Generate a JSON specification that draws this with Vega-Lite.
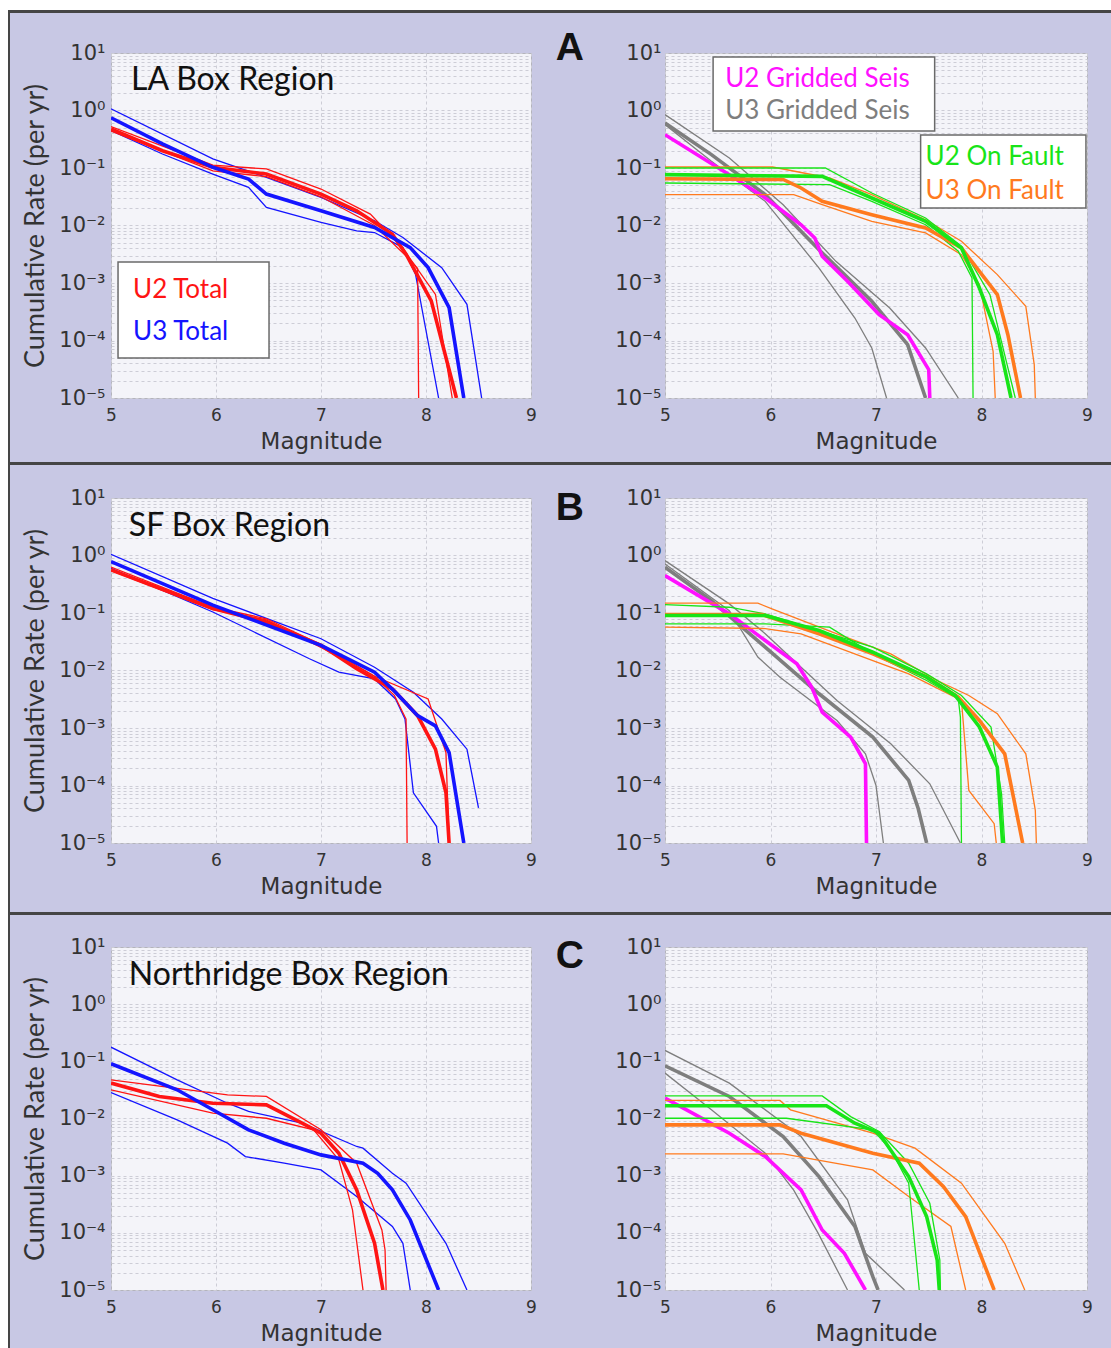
{
  "$schema": "https://vega.github.io/schema/vega-lite/v6.json",
  "background": "#c8c8e4",
  "padding": 0,
  "bounds": "flush",
  "spacing": 0,
  "columns": 6,
  "config": {
    "view": {"stroke": null},
    "axis": {"grid": true, "gridDash": [3, 3], "gridColor": "#cdcdd6", "gridWidth": 1, "ticks": false, "domain": false, "labelColor": "#333333", "titleColor": "#333333", "labelFont": "DejaVu Sans", "titleFont": "DejaVu Sans", "titleFontWeight": "normal", "labelOverlap": false, "labelFlush": false, "labelBound": false}
  },
  "datasets": {
    "AL": [
      {"s":"U3 Total","w":"thin","id":"b1","M":5,"r":1.07},{"s":"U3 Total","w":"thin","id":"b1","M":5.97,"r":0.144},{"s":"U3 Total","w":"thin","id":"b1","M":6.48,"r":0.0687},{"s":"U3 Total","w":"thin","id":"b1","M":7.0,"r":0.0308},{"s":"U3 Total","w":"thin","id":"b1","M":7.51,"r":0.0121},{"s":"U3 Total","w":"thin","id":"b1","M":7.78,"r":0.00618},{"s":"U3 Total","w":"thin","id":"b1","M":8.15,"r":0.00185},{"s":"U3 Total","w":"thin","id":"b1","M":8.39,"r":0.000425},{"s":"U3 Total","w":"thin","id":"b1","M":8.53,"r":0.00001},
      {"s":"U3 Total","w":"thin","id":"b2","M":5,"r":0.448},{"s":"U3 Total","w":"thin","id":"b2","M":5.49,"r":0.175},{"s":"U3 Total","w":"thin","id":"b2","M":5.97,"r":0.0785},{"s":"U3 Total","w":"thin","id":"b2","M":6.31,"r":0.046},{"s":"U3 Total","w":"thin","id":"b2","M":6.48,"r":0.0206},{"s":"U3 Total","w":"thin","id":"b2","M":7.0,"r":0.0113},{"s":"U3 Total","w":"thin","id":"b2","M":7.34,"r":0.00807},{"s":"U3 Total","w":"thin","id":"b2","M":7.51,"r":0.00755},{"s":"U3 Total","w":"thin","id":"b2","M":7.78,"r":0.00413},{"s":"U3 Total","w":"thin","id":"b2","M":7.9,"r":0.00142},{"s":"U3 Total","w":"thin","id":"b2","M":8.12,"r":0.00001},
      {"s":"U2 Total","w":"thin","id":"r1","M":5,"r":0.525},{"s":"U2 Total","w":"thin","id":"r1","M":5.97,"r":0.112},{"s":"U2 Total","w":"thin","id":"r1","M":6.48,"r":0.0962},{"s":"U2 Total","w":"thin","id":"r1","M":7.0,"r":0.0431},{"s":"U2 Total","w":"thin","id":"r1","M":7.47,"r":0.0158},{"s":"U2 Total","w":"thin","id":"r1","M":7.78,"r":0.00398},{"s":"U2 Total","w":"thin","id":"r1","M":8.09,"r":0.000634},{"s":"U2 Total","w":"thin","id":"r1","M":8.25,"r":0.00001},
      {"s":"U2 Total","w":"thin","id":"r2","M":5,"r":0.437},{"s":"U2 Total","w":"thin","id":"r2","M":5.97,"r":0.0891},{"s":"U2 Total","w":"thin","id":"r2","M":6.48,"r":0.0708},{"s":"U2 Total","w":"thin","id":"r2","M":7.0,"r":0.0316},{"s":"U2 Total","w":"thin","id":"r2","M":7.51,"r":0.01},{"s":"U2 Total","w":"thin","id":"r2","M":7.85,"r":0.00251},{"s":"U2 Total","w":"thin","id":"r2","M":7.92,"r":0.00178},{"s":"U2 Total","w":"thin","id":"r2","M":7.93,"r":0.00001},
      {"s":"U2 Total","w":"thick","id":"r0","M":5,"r":0.479},{"s":"U2 Total","w":"thick","id":"r0","M":5.49,"r":0.2},{"s":"U2 Total","w":"thick","id":"r0","M":5.97,"r":0.103},{"s":"U2 Total","w":"thick","id":"r0","M":6.48,"r":0.0785},{"s":"U2 Total","w":"thick","id":"r0","M":7.0,"r":0.0352},{"s":"U2 Total","w":"thick","id":"r0","M":7.34,"r":0.018},{"s":"U2 Total","w":"thick","id":"r0","M":7.68,"r":0.00706},{"s":"U2 Total","w":"thick","id":"r0","M":7.81,"r":0.00316},{"s":"U2 Total","w":"thick","id":"r0","M":8.05,"r":0.00049},{"s":"U2 Total","w":"thick","id":"r0","M":8.29,"r":0.00001},
      {"s":"U3 Total","w":"thick","id":"b0","M":5,"r":0.745},{"s":"U3 Total","w":"thick","id":"b0","M":5.49,"r":0.262},{"s":"U3 Total","w":"thick","id":"b0","M":5.97,"r":0.103},{"s":"U3 Total","w":"thick","id":"b0","M":6.31,"r":0.0643},{"s":"U3 Total","w":"thick","id":"b0","M":6.48,"r":0.0352},{"s":"U3 Total","w":"thick","id":"b0","M":7.0,"r":0.018},{"s":"U3 Total","w":"thick","id":"b0","M":7.51,"r":0.00923},{"s":"U3 Total","w":"thick","id":"b0","M":7.85,"r":0.00413},{"s":"U3 Total","w":"thick","id":"b0","M":8.02,"r":0.00185},{"s":"U3 Total","w":"thick","id":"b0","M":8.22,"r":0.000372},{"s":"U3 Total","w":"thick","id":"b0","M":8.36,"r":0.00001}
    ],
    "AR": [
      {"s":"U3 Gridded Seis","w":"thin","id":"g1","M":5,"r":0.847},{"s":"U3 Gridded Seis","w":"thin","id":"g1","M":5.61,"r":0.149},{"s":"U3 Gridded Seis","w":"thin","id":"g1","M":6.12,"r":0.023},{"s":"U3 Gridded Seis","w":"thin","id":"g1","M":6.62,"r":0.00238},{"s":"U3 Gridded Seis","w":"thin","id":"g1","M":7.13,"r":0.000367},{"s":"U3 Gridded Seis","w":"thin","id":"g1","M":7.47,"r":0.0000741},{"s":"U3 Gridded Seis","w":"thin","id":"g1","M":7.78,"r":0.00001},
      {"s":"U3 Gridded Seis","w":"thin","id":"g2","M":5,"r":0.568},{"s":"U3 Gridded Seis","w":"thin","id":"g2","M":5.44,"r":0.131},{"s":"U3 Gridded Seis","w":"thin","id":"g2","M":5.95,"r":0.0263},{"s":"U3 Gridded Seis","w":"thin","id":"g2","M":6.46,"r":0.00182},{"s":"U3 Gridded Seis","w":"thin","id":"g2","M":6.8,"r":0.000246},{"s":"U3 Gridded Seis","w":"thin","id":"g2","M":6.96,"r":0.0000741},{"s":"U3 Gridded Seis","w":"thin","id":"g2","M":7.1,"r":0.00001},
      {"s":"U3 Gridded Seis","w":"thick","id":"g0","M":5,"r":0.607},{"s":"U3 Gridded Seis","w":"thick","id":"g0","M":5.44,"r":0.171},{"s":"U3 Gridded Seis","w":"thick","id":"g0","M":5.95,"r":0.0344},{"s":"U3 Gridded Seis","w":"thick","id":"g0","M":6.46,"r":0.0038},{"s":"U3 Gridded Seis","w":"thick","id":"g0","M":6.96,"r":0.00048},{"s":"U3 Gridded Seis","w":"thick","id":"g0","M":7.3,"r":0.0000847},{"s":"U3 Gridded Seis","w":"thick","id":"g0","M":7.47,"r":0.00001},
      {"s":"U2 Gridded Seis","w":"thick","id":"m0","M":5,"r":0.38},{"s":"U2 Gridded Seis","w":"thick","id":"m0","M":5.61,"r":0.0766},{"s":"U2 Gridded Seis","w":"thick","id":"m0","M":5.95,"r":0.0301},{"s":"U2 Gridded Seis","w":"thick","id":"m0","M":6.29,"r":0.0103},{"s":"U2 Gridded Seis","w":"thick","id":"m0","M":6.42,"r":0.00607},{"s":"U2 Gridded Seis","w":"thick","id":"m0","M":6.49,"r":0.00291},{"s":"U2 Gridded Seis","w":"thick","id":"m0","M":6.73,"r":0.00107},{"s":"U2 Gridded Seis","w":"thick","id":"m0","M":7.03,"r":0.000281},{"s":"U2 Gridded Seis","w":"thick","id":"m0","M":7.3,"r":0.000126},{"s":"U2 Gridded Seis","w":"thick","id":"m0","M":7.5,"r":0.0000311},{"s":"U2 Gridded Seis","w":"thick","id":"m0","M":7.51,"r":0.00001},
      {"s":"U3 On Fault","w":"thin","id":"o1","M":5,"r":0.104},{"s":"U3 On Fault","w":"thin","id":"o1","M":6.02,"r":0.104},{"s":"U3 On Fault","w":"thin","id":"o1","M":6.56,"r":0.067},{"s":"U3 On Fault","w":"thin","id":"o1","M":6.96,"r":0.0344},{"s":"U3 On Fault","w":"thin","id":"o1","M":7.47,"r":0.0126},{"s":"U3 On Fault","w":"thin","id":"o1","M":7.81,"r":0.00531},{"s":"U3 On Fault","w":"thin","id":"o1","M":8.15,"r":0.0014},{"s":"U3 On Fault","w":"thin","id":"o1","M":8.42,"r":0.000393},{"s":"U3 On Fault","w":"thin","id":"o1","M":8.5,"r":0.000038},{"s":"U3 On Fault","w":"thin","id":"o1","M":8.51,"r":0.00001},
      {"s":"U3 On Fault","w":"thin","id":"o2","M":5,"r":0.0344},{"s":"U3 On Fault","w":"thin","id":"o2","M":6.22,"r":0.0344},{"s":"U3 On Fault","w":"thin","id":"o2","M":6.49,"r":0.023},{"s":"U3 On Fault","w":"thin","id":"o2","M":6.96,"r":0.0118},{"s":"U3 On Fault","w":"thin","id":"o2","M":7.47,"r":0.00741},{"s":"U3 On Fault","w":"thin","id":"o2","M":7.81,"r":0.00311},{"s":"U3 On Fault","w":"thin","id":"o2","M":7.98,"r":0.000935},{"s":"U3 On Fault","w":"thin","id":"o2","M":8.11,"r":0.0000649},{"s":"U3 On Fault","w":"thin","id":"o2","M":8.13,"r":0.00001},
      {"s":"U2 On Fault","w":"thin","id":"u1","M":5,"r":0.1},{"s":"U2 On Fault","w":"thin","id":"u1","M":6.52,"r":0.1},{"s":"U2 On Fault","w":"thin","id":"u1","M":6.96,"r":0.0367},{"s":"U2 On Fault","w":"thin","id":"u1","M":7.47,"r":0.0135},{"s":"U2 On Fault","w":"thin","id":"u1","M":7.81,"r":0.00435},{"s":"U2 On Fault","w":"thin","id":"u1","M":8.08,"r":0.000627},{"s":"U2 On Fault","w":"thin","id":"u1","M":8.32,"r":0.00001},
      {"s":"U2 On Fault","w":"thin","id":"u2","M":5,"r":0.0548},{"s":"U2 On Fault","w":"thin","id":"u2","M":6.56,"r":0.0513},{"s":"U2 On Fault","w":"thin","id":"u2","M":6.96,"r":0.0263},{"s":"U2 On Fault","w":"thin","id":"u2","M":7.47,"r":0.0103},{"s":"U2 On Fault","w":"thin","id":"u2","M":7.78,"r":0.00356},{"s":"U2 On Fault","w":"thin","id":"u2","M":7.91,"r":0.00122},{"s":"U2 On Fault","w":"thin","id":"u2","M":7.92,"r":0.00001},
      {"s":"U3 On Fault","w":"thick","id":"o0","M":5,"r":0.0652},{"s":"U3 On Fault","w":"thick","id":"o0","M":6.12,"r":0.0631},{"s":"U3 On Fault","w":"thick","id":"o0","M":6.29,"r":0.0449},{"s":"U3 On Fault","w":"thick","id":"o0","M":6.49,"r":0.0263},{"s":"U3 On Fault","w":"thick","id":"o0","M":6.96,"r":0.0154},{"s":"U3 On Fault","w":"thick","id":"o0","M":7.47,"r":0.00906},{"s":"U3 On Fault","w":"thick","id":"o0","M":7.81,"r":0.00406},{"s":"U3 On Fault","w":"thick","id":"o0","M":8.15,"r":0.000627},{"s":"U3 On Fault","w":"thick","id":"o0","M":8.25,"r":0.000126},{"s":"U3 On Fault","w":"thick","id":"o0","M":8.37,"r":0.00001},
      {"s":"U2 On Fault","w":"thick","id":"u0","M":5,"r":0.0766},{"s":"U2 On Fault","w":"thick","id":"u0","M":6.49,"r":0.0716},{"s":"U2 On Fault","w":"thick","id":"u0","M":6.96,"r":0.0301},{"s":"U2 On Fault","w":"thick","id":"u0","M":7.47,"r":0.0118},{"s":"U2 On Fault","w":"thick","id":"u0","M":7.81,"r":0.00406},{"s":"U2 On Fault","w":"thick","id":"u0","M":7.98,"r":0.000818},{"s":"U2 On Fault","w":"thick","id":"u0","M":8.15,"r":0.000126},{"s":"U2 On Fault","w":"thick","id":"u0","M":8.28,"r":0.00001}
    ],
    "BL": [
      {"s":"U3 Total","w":"thin","id":"b1","M":5,"r":1.05},{"s":"U3 Total","w":"thin","id":"b1","M":5.97,"r":0.179},{"s":"U3 Total","w":"thin","id":"b1","M":7.0,"r":0.0357},{"s":"U3 Total","w":"thin","id":"b1","M":7.51,"r":0.0114},{"s":"U3 Total","w":"thin","id":"b1","M":7.88,"r":0.00418},{"s":"U3 Total","w":"thin","id":"b1","M":8.15,"r":0.00143},{"s":"U3 Total","w":"thin","id":"b1","M":8.39,"r":0.000428},{"s":"U3 Total","w":"thin","id":"b1","M":8.5,"r":0.0000409},
      {"s":"U3 Total","w":"thin","id":"b2","M":5,"r":0.598},{"s":"U3 Total","w":"thin","id":"b2","M":5.97,"r":0.104},{"s":"U3 Total","w":"thin","id":"b2","M":6.89,"r":0.016},{"s":"U3 Total","w":"thin","id":"b2","M":7.17,"r":0.00935},{"s":"U3 Total","w":"thin","id":"b2","M":7.51,"r":0.00714},{"s":"U3 Total","w":"thin","id":"b2","M":7.71,"r":0.0032},{"s":"U3 Total","w":"thin","id":"b2","M":7.8,"r":0.00143},{"s":"U3 Total","w":"thin","id":"b2","M":7.88,"r":0.0000748},{"s":"U3 Total","w":"thin","id":"b2","M":8.1,"r":0.0000195},{"s":"U3 Total","w":"thin","id":"b2","M":8.12,"r":0.00001},
      {"s":"U2 Total","w":"thin","id":"r1","M":5,"r":0.631},{"s":"U2 Total","w":"thin","id":"r1","M":5.97,"r":0.126},{"s":"U2 Total","w":"thin","id":"r1","M":6.48,"r":0.0794},{"s":"U2 Total","w":"thin","id":"r1","M":7.0,"r":0.0282},{"s":"U2 Total","w":"thin","id":"r1","M":7.51,"r":0.00794},{"s":"U2 Total","w":"thin","id":"r1","M":7.7,"r":0.00366},{"s":"U2 Total","w":"thin","id":"r1","M":7.81,"r":0.00143},{"s":"U2 Total","w":"thin","id":"r1","M":7.82,"r":0.00001},
      {"s":"U2 Total","w":"thin","id":"r2","M":5,"r":0.55},{"s":"U2 Total","w":"thin","id":"r2","M":5.97,"r":0.115},{"s":"U2 Total","w":"thin","id":"r2","M":6.48,"r":0.0759},{"s":"U2 Total","w":"thin","id":"r2","M":7.0,"r":0.0251},{"s":"U2 Total","w":"thin","id":"r2","M":7.51,"r":0.00794},{"s":"U2 Total","w":"thin","id":"r2","M":8.02,"r":0.0032},{"s":"U2 Total","w":"thin","id":"r2","M":8.19,"r":0.000374},{"s":"U2 Total","w":"thin","id":"r2","M":8.22,"r":0.00001},
      {"s":"U2 Total","w":"thick","id":"r0","M":5,"r":0.562},{"s":"U2 Total","w":"thick","id":"r0","M":5.97,"r":0.12},{"s":"U2 Total","w":"thick","id":"r0","M":6.48,"r":0.07},{"s":"U2 Total","w":"thick","id":"r0","M":7.0,"r":0.0274},{"s":"U2 Total","w":"thick","id":"r0","M":7.34,"r":0.0107},{"s":"U2 Total","w":"thick","id":"r0","M":7.68,"r":0.00479},{"s":"U2 Total","w":"thick","id":"r0","M":7.92,"r":0.00164},{"s":"U2 Total","w":"thick","id":"r0","M":8.09,"r":0.000428},{"s":"U2 Total","w":"thick","id":"r0","M":8.19,"r":0.0000748},{"s":"U2 Total","w":"thick","id":"r0","M":8.22,"r":0.00001},
      {"s":"U3 Total","w":"thick","id":"b0","M":5,"r":0.782},{"s":"U3 Total","w":"thick","id":"b0","M":5.97,"r":0.137},{"s":"U3 Total","w":"thick","id":"b0","M":7.0,"r":0.0274},{"s":"U3 Total","w":"thick","id":"b0","M":7.51,"r":0.00935},{"s":"U3 Total","w":"thick","id":"b0","M":7.71,"r":0.00418},{"s":"U3 Total","w":"thick","id":"b0","M":7.92,"r":0.00164},{"s":"U3 Total","w":"thick","id":"b0","M":8.09,"r":0.00109},{"s":"U3 Total","w":"thick","id":"b0","M":8.22,"r":0.000374},{"s":"U3 Total","w":"thick","id":"b0","M":8.36,"r":0.00001}
    ],
    "BR": [
      {"s":"U3 Gridded Seis","w":"thin","id":"g1","M":5,"r":0.815},{"s":"U3 Gridded Seis","w":"thin","id":"g1","M":5.61,"r":0.144},{"s":"U3 Gridded Seis","w":"thin","id":"g1","M":5.95,"r":0.0437},{"s":"U3 Gridded Seis","w":"thin","id":"g1","M":6.29,"r":0.0114},{"s":"U3 Gridded Seis","w":"thin","id":"g1","M":6.63,"r":0.00301},{"s":"U3 Gridded Seis","w":"thin","id":"g1","M":7.14,"r":0.000532},{"s":"U3 Gridded Seis","w":"thin","id":"g1","M":7.51,"r":0.000107},{"s":"U3 Gridded Seis","w":"thin","id":"g1","M":7.8,"r":0.00001},
      {"s":"U3 Gridded Seis","w":"thin","id":"g2","M":5,"r":0.713},{"s":"U3 Gridded Seis","w":"thin","id":"g2","M":5.61,"r":0.11},{"s":"U3 Gridded Seis","w":"thin","id":"g2","M":5.88,"r":0.0171},{"s":"U3 Gridded Seis","w":"thin","id":"g2","M":6.09,"r":0.00766},{"s":"U3 Gridded Seis","w":"thin","id":"g2","M":6.63,"r":0.00135},{"s":"U3 Gridded Seis","w":"thin","id":"g2","M":6.9,"r":0.000356},{"s":"U3 Gridded Seis","w":"thin","id":"g2","M":7.0,"r":0.0001},{"s":"U3 Gridded Seis","w":"thin","id":"g2","M":7.07,"r":0.00001},
      {"s":"U3 Gridded Seis","w":"thick","id":"g0","M":5,"r":0.624},{"s":"U3 Gridded Seis","w":"thick","id":"g0","M":5.44,"r":0.164},{"s":"U3 Gridded Seis","w":"thick","id":"g0","M":5.95,"r":0.0254},{"s":"U3 Gridded Seis","w":"thick","id":"g0","M":6.46,"r":0.00394},{"s":"U3 Gridded Seis","w":"thick","id":"g0","M":6.97,"r":0.000695},{"s":"U3 Gridded Seis","w":"thick","id":"g0","M":7.31,"r":0.000123},{"s":"U3 Gridded Seis","w":"thick","id":"g0","M":7.4,"r":0.0000398},{"s":"U3 Gridded Seis","w":"thick","id":"g0","M":7.48,"r":0.00001},
      {"s":"U2 Gridded Seis","w":"thick","id":"m0","M":5,"r":0.448},{"s":"U2 Gridded Seis","w":"thick","id":"m0","M":5.61,"r":0.0966},{"s":"U2 Gridded Seis","w":"thick","id":"m0","M":5.95,"r":0.0332},{"s":"U2 Gridded Seis","w":"thick","id":"m0","M":6.25,"r":0.0131},{"s":"U2 Gridded Seis","w":"thick","id":"m0","M":6.39,"r":0.00513},{"s":"U2 Gridded Seis","w":"thick","id":"m0","M":6.49,"r":0.00189},{"s":"U2 Gridded Seis","w":"thick","id":"m0","M":6.76,"r":0.000695},{"s":"U2 Gridded Seis","w":"thick","id":"m0","M":6.9,"r":0.000239},{"s":"U2 Gridded Seis","w":"thick","id":"m0","M":6.91,"r":0.00001},
      {"s":"U3 On Fault","w":"thin","id":"o1","M":5,"r":0.148},{"s":"U3 On Fault","w":"thin","id":"o1","M":5.88,"r":0.148},{"s":"U3 On Fault","w":"thin","id":"o1","M":6.02,"r":0.117},{"s":"U3 On Fault","w":"thin","id":"o1","M":6.63,"r":0.0434},{"s":"U3 On Fault","w":"thin","id":"o1","M":7.14,"r":0.0195},{"s":"U3 On Fault","w":"thin","id":"o1","M":7.58,"r":0.0067},{"s":"U3 On Fault","w":"thin","id":"o1","M":7.88,"r":0.00368},{"s":"U3 On Fault","w":"thin","id":"o1","M":8.15,"r":0.00177},{"s":"U3 On Fault","w":"thin","id":"o1","M":8.42,"r":0.000356},{"s":"U3 On Fault","w":"thin","id":"o1","M":8.51,"r":0.000037},{"s":"U3 On Fault","w":"thin","id":"o1","M":8.52,"r":0.00001},
      {"s":"U3 On Fault","w":"thin","id":"o2","M":5,"r":0.0566},{"s":"U3 On Fault","w":"thin","id":"o2","M":5.95,"r":0.0537},{"s":"U3 On Fault","w":"thin","id":"o2","M":6.29,"r":0.0434},{"s":"U3 On Fault","w":"thin","id":"o2","M":6.97,"r":0.0149},{"s":"U3 On Fault","w":"thin","id":"o2","M":7.31,"r":0.00875},{"s":"U3 On Fault","w":"thin","id":"o2","M":7.81,"r":0.00301},{"s":"U3 On Fault","w":"thin","id":"o2","M":7.88,"r":0.0000822},{"s":"U3 On Fault","w":"thin","id":"o2","M":8.12,"r":0.0000217},{"s":"U3 On Fault","w":"thin","id":"o2","M":8.14,"r":0.00001},
      {"s":"U2 On Fault","w":"thin","id":"u1","M":5,"r":0.14},{"s":"U2 On Fault","w":"thin","id":"u1","M":5.61,"r":0.126},{"s":"U2 On Fault","w":"thin","id":"u1","M":5.95,"r":0.0966},{"s":"U2 On Fault","w":"thin","id":"u1","M":6.97,"r":0.0254},{"s":"U2 On Fault","w":"thin","id":"u1","M":7.48,"r":0.00875},{"s":"U2 On Fault","w":"thin","id":"u1","M":7.81,"r":0.00368},{"s":"U2 On Fault","w":"thin","id":"u1","M":8.09,"r":0.00104},{"s":"U2 On Fault","w":"thin","id":"u1","M":8.19,"r":0.0000719},{"s":"U2 On Fault","w":"thin","id":"u1","M":8.22,"r":0.00001},
      {"s":"U2 On Fault","w":"thin","id":"u2","M":5,"r":0.0647},{"s":"U2 On Fault","w":"thin","id":"u2","M":5.95,"r":0.0647},{"s":"U2 On Fault","w":"thin","id":"u2","M":6.56,"r":0.0566},{"s":"U2 On Fault","w":"thin","id":"u2","M":6.97,"r":0.0195},{"s":"U2 On Fault","w":"thin","id":"u2","M":7.48,"r":0.0067},{"s":"U2 On Fault","w":"thin","id":"u2","M":7.78,"r":0.00322},{"s":"U2 On Fault","w":"thin","id":"u2","M":7.8,"r":0.00155},{"s":"U2 On Fault","w":"thin","id":"u2","M":7.81,"r":0.00001},
      {"s":"U3 On Fault","w":"thick","id":"o0","M":5,"r":0.094},{"s":"U3 On Fault","w":"thick","id":"o0","M":5.92,"r":0.094},{"s":"U3 On Fault","w":"thick","id":"o0","M":6.46,"r":0.0434},{"s":"U3 On Fault","w":"thick","id":"o0","M":6.97,"r":0.0195},{"s":"U3 On Fault","w":"thick","id":"o0","M":7.48,"r":0.00766},{"s":"U3 On Fault","w":"thick","id":"o0","M":7.78,"r":0.00344},{"s":"U3 On Fault","w":"thick","id":"o0","M":7.98,"r":0.00135},{"s":"U3 On Fault","w":"thick","id":"o0","M":8.22,"r":0.000356},{"s":"U3 On Fault","w":"thick","id":"o0","M":8.39,"r":0.00001},
      {"s":"U2 On Fault","w":"thick","id":"u0","M":5,"r":0.0904},{"s":"U2 On Fault","w":"thick","id":"u0","M":5.95,"r":0.0904},{"s":"U2 On Fault","w":"thick","id":"u0","M":6.46,"r":0.0495},{"s":"U2 On Fault","w":"thick","id":"u0","M":6.97,"r":0.0208},{"s":"U2 On Fault","w":"thick","id":"u0","M":7.48,"r":0.00766},{"s":"U2 On Fault","w":"thick","id":"u0","M":7.75,"r":0.00368},{"s":"U2 On Fault","w":"thick","id":"u0","M":7.98,"r":0.00104},{"s":"U2 On Fault","w":"thick","id":"u0","M":8.15,"r":0.000209},{"s":"U2 On Fault","w":"thick","id":"u0","M":8.2,"r":0.00001}
    ],
    "CL": [
      {"s":"U3 Total","w":"thin","id":"b1","M":5,"r":0.177},{"s":"U3 Total","w":"thin","id":"b1","M":5.63,"r":0.0475},{"s":"U3 Total","w":"thin","id":"b1","M":6.11,"r":0.0185},{"s":"U3 Total","w":"thin","id":"b1","M":6.31,"r":0.0133},{"s":"U3 Total","w":"thin","id":"b1","M":6.82,"r":0.00828},{"s":"U3 Total","w":"thin","id":"b1","M":7.34,"r":0.00324},{"s":"U3 Total","w":"thin","id":"b1","M":7.4,"r":0.00303},{"s":"U3 Total","w":"thin","id":"b1","M":7.68,"r":0.0011},{"s":"U3 Total","w":"thin","id":"b1","M":7.81,"r":0.000738},{"s":"U3 Total","w":"thin","id":"b1","M":8.19,"r":0.0000656},{"s":"U3 Total","w":"thin","id":"b1","M":8.39,"r":0.00001},
      {"s":"U3 Total","w":"thin","id":"b2","M":5,"r":0.0285},{"s":"U3 Total","w":"thin","id":"b2","M":5.63,"r":0.00948},{"s":"U3 Total","w":"thin","id":"b2","M":6.11,"r":0.0037},{"s":"U3 Total","w":"thin","id":"b2","M":6.28,"r":0.00216},{"s":"U3 Total","w":"thin","id":"b2","M":6.65,"r":0.00165},{"s":"U3 Total","w":"thin","id":"b2","M":7.0,"r":0.00126},{"s":"U3 Total","w":"thin","id":"b2","M":7.34,"r":0.000431},{"s":"U3 Total","w":"thin","id":"b2","M":7.68,"r":0.000129},{"s":"U3 Total","w":"thin","id":"b2","M":7.78,"r":0.0000656},{"s":"U3 Total","w":"thin","id":"b2","M":7.85,"r":0.00001},
      {"s":"U2 Total","w":"thin","id":"r1","M":5,"r":0.0475},{"s":"U2 Total","w":"thin","id":"r1","M":6.11,"r":0.0259},{"s":"U2 Total","w":"thin","id":"r1","M":6.48,"r":0.0243},{"s":"U2 Total","w":"thin","id":"r1","M":7.0,"r":0.00634},{"s":"U2 Total","w":"thin","id":"r1","M":7.34,"r":0.00165},{"s":"U2 Total","w":"thin","id":"r1","M":7.58,"r":0.000112},{"s":"U2 Total","w":"thin","id":"r1","M":7.61,"r":0.0000501},{"s":"U2 Total","w":"thin","id":"r1","M":7.62,"r":0.00001},
      {"s":"U2 Total","w":"thin","id":"r2","M":5,"r":0.0318},{"s":"U2 Total","w":"thin","id":"r2","M":5.97,"r":0.0124},{"s":"U2 Total","w":"thin","id":"r2","M":6.48,"r":0.0101},{"s":"U2 Total","w":"thin","id":"r2","M":6.93,"r":0.00634},{"s":"U2 Total","w":"thin","id":"r2","M":7.17,"r":0.00189},{"s":"U2 Total","w":"thin","id":"r2","M":7.3,"r":0.000252},{"s":"U2 Total","w":"thin","id":"r2","M":7.4,"r":0.00001},
      {"s":"U2 Total","w":"thick","id":"r0","M":5,"r":0.0416},{"s":"U2 Total","w":"thick","id":"r0","M":5.46,"r":0.0243},{"s":"U2 Total","w":"thick","id":"r0","M":5.97,"r":0.0185},{"s":"U2 Total","w":"thick","id":"r0","M":6.48,"r":0.0173},{"s":"U2 Total","w":"thick","id":"r0","M":6.82,"r":0.00828},{"s":"U2 Total","w":"thick","id":"r0","M":7.0,"r":0.00553},{"s":"U2 Total","w":"thick","id":"r0","M":7.17,"r":0.00247},{"s":"U2 Total","w":"thick","id":"r0","M":7.34,"r":0.000564},{"s":"U2 Total","w":"thick","id":"r0","M":7.51,"r":0.0000656},{"s":"U2 Total","w":"thick","id":"r0","M":7.59,"r":0.00001},
      {"s":"U3 Total","w":"thick","id":"b0","M":5,"r":0.0906},{"s":"U3 Total","w":"thick","id":"b0","M":5.63,"r":0.0318},{"s":"U3 Total","w":"thick","id":"b0","M":5.97,"r":0.0142},{"s":"U3 Total","w":"thick","id":"b0","M":6.31,"r":0.00634},{"s":"U3 Total","w":"thick","id":"b0","M":6.65,"r":0.0037},{"s":"U3 Total","w":"thick","id":"b0","M":7.0,"r":0.00231},{"s":"U3 Total","w":"thick","id":"b0","M":7.4,"r":0.00165},{"s":"U3 Total","w":"thick","id":"b0","M":7.54,"r":0.0011},{"s":"U3 Total","w":"thick","id":"b0","M":7.68,"r":0.000564},{"s":"U3 Total","w":"thick","id":"b0","M":7.85,"r":0.000168},{"s":"U3 Total","w":"thick","id":"b0","M":8.12,"r":0.00001}
    ],
    "CR": [
      {"s":"U3 Gridded Seis","w":"thin","id":"g1","M":5,"r":0.155},{"s":"U3 Gridded Seis","w":"thin","id":"g1","M":5.61,"r":0.0416},{"s":"U3 Gridded Seis","w":"thin","id":"g1","M":6.29,"r":0.00484},{"s":"U3 Gridded Seis","w":"thin","id":"g1","M":6.73,"r":0.000377},{"s":"U3 Gridded Seis","w":"thin","id":"g1","M":6.9,"r":0.0000439},{"s":"U3 Gridded Seis","w":"thin","id":"g1","M":7.27,"r":0.00001},
      {"s":"U3 Gridded Seis","w":"thin","id":"g2","M":5,"r":0.0622},{"s":"U3 Gridded Seis","w":"thin","id":"g2","M":5.44,"r":0.0142},{"s":"U3 Gridded Seis","w":"thin","id":"g2","M":5.95,"r":0.00247},{"s":"U3 Gridded Seis","w":"thin","id":"g2","M":6.22,"r":0.00056},{"s":"U3 Gridded Seis","w":"thin","id":"g2","M":6.45,"r":0.0001},{"s":"U3 Gridded Seis","w":"thin","id":"g2","M":6.73,"r":0.00001},
      {"s":"U3 Gridded Seis","w":"thick","id":"g0","M":5,"r":0.0836},{"s":"U3 Gridded Seis","w":"thick","id":"g0","M":5.61,"r":0.0243},{"s":"U3 Gridded Seis","w":"thick","id":"g0","M":6.12,"r":0.00484},{"s":"U3 Gridded Seis","w":"thick","id":"g0","M":6.46,"r":0.000964},{"s":"U3 Gridded Seis","w":"thick","id":"g0","M":6.8,"r":0.000129},{"s":"U3 Gridded Seis","w":"thick","id":"g0","M":6.97,"r":0.0000171},{"s":"U3 Gridded Seis","w":"thick","id":"g0","M":7.02,"r":0.00001},
      {"s":"U2 Gridded Seis","w":"thick","id":"m0","M":5,"r":0.0227},{"s":"U2 Gridded Seis","w":"thick","id":"m0","M":5.61,"r":0.00553},{"s":"U2 Gridded Seis","w":"thick","id":"m0","M":5.95,"r":0.00216},{"s":"U2 Gridded Seis","w":"thick","id":"m0","M":6.29,"r":0.000564},{"s":"U2 Gridded Seis","w":"thick","id":"m0","M":6.49,"r":0.000112},{"s":"U2 Gridded Seis","w":"thick","id":"m0","M":6.7,"r":0.0000439},{"s":"U2 Gridded Seis","w":"thick","id":"m0","M":6.9,"r":0.00001},
      {"s":"U3 On Fault","w":"thin","id":"o1","M":5,"r":0.0207},{"s":"U3 On Fault","w":"thin","id":"o1","M":6.09,"r":0.0207},{"s":"U3 On Fault","w":"thin","id":"o1","M":6.19,"r":0.0142},{"s":"U3 On Fault","w":"thin","id":"o1","M":6.97,"r":0.00553},{"s":"U3 On Fault","w":"thin","id":"o1","M":7.37,"r":0.00303},{"s":"U3 On Fault","w":"thin","id":"o1","M":7.81,"r":0.000738},{"s":"U3 On Fault","w":"thin","id":"o1","M":8.22,"r":0.0000656},{"s":"U3 On Fault","w":"thin","id":"o1","M":8.41,"r":0.00001},
      {"s":"U3 On Fault","w":"thin","id":"o2","M":5,"r":0.0024},{"s":"U3 On Fault","w":"thin","id":"o2","M":6.12,"r":0.0024},{"s":"U3 On Fault","w":"thin","id":"o2","M":6.97,"r":0.00126},{"s":"U3 On Fault","w":"thin","id":"o2","M":7.31,"r":0.000431},{"s":"U3 On Fault","w":"thin","id":"o2","M":7.71,"r":0.000129},{"s":"U3 On Fault","w":"thin","id":"o2","M":7.85,"r":0.00001},
      {"s":"U2 On Fault","w":"thin","id":"u1","M":5,"r":0.0249},{"s":"U2 On Fault","w":"thin","id":"u1","M":6.49,"r":0.0249},{"s":"U2 On Fault","w":"thin","id":"u1","M":6.76,"r":0.0108},{"s":"U2 On Fault","w":"thin","id":"u1","M":7.03,"r":0.00592},{"s":"U2 On Fault","w":"thin","id":"u1","M":7.31,"r":0.00165},{"s":"U2 On Fault","w":"thin","id":"u1","M":7.51,"r":0.000329},{"s":"U2 On Fault","w":"thin","id":"u1","M":7.605,"r":0.0000335},{"s":"U2 On Fault","w":"thin","id":"u1","M":7.61,"r":0.00001},
      {"s":"U2 On Fault","w":"thin","id":"u2","M":5,"r":0.0101},{"s":"U2 On Fault","w":"thin","id":"u2","M":6.15,"r":0.0101},{"s":"U2 On Fault","w":"thin","id":"u2","M":6.97,"r":0.00634},{"s":"U2 On Fault","w":"thin","id":"u2","M":7.14,"r":0.00282},{"s":"U2 On Fault","w":"thin","id":"u2","M":7.31,"r":0.000738},{"s":"U2 On Fault","w":"thin","id":"u2","M":7.41,"r":0.00001},
      {"s":"U3 On Fault","w":"thick","id":"o0","M":5,"r":0.00774},{"s":"U3 On Fault","w":"thick","id":"o0","M":6.09,"r":0.00774},{"s":"U3 On Fault","w":"thick","id":"o0","M":6.29,"r":0.00553},{"s":"U3 On Fault","w":"thick","id":"o0","M":6.97,"r":0.00247},{"s":"U3 On Fault","w":"thick","id":"o0","M":7.41,"r":0.00165},{"s":"U3 On Fault","w":"thick","id":"o0","M":7.64,"r":0.000644},{"s":"U3 On Fault","w":"thick","id":"o0","M":7.85,"r":0.000192},{"s":"U3 On Fault","w":"thick","id":"o0","M":8.12,"r":0.00001},
      {"s":"U2 On Fault","w":"thick","id":"u0","M":5,"r":0.0167},{"s":"U2 On Fault","w":"thick","id":"u0","M":6.53,"r":0.0167},{"s":"U2 On Fault","w":"thick","id":"u0","M":6.8,"r":0.00828},{"s":"U2 On Fault","w":"thick","id":"u0","M":7.03,"r":0.00553},{"s":"U2 On Fault","w":"thick","id":"u0","M":7.31,"r":0.000964},{"s":"U2 On Fault","w":"thick","id":"u0","M":7.48,"r":0.000192},{"s":"U2 On Fault","w":"thick","id":"u0","M":7.58,"r":0.0000335},{"s":"U2 On Fault","w":"thick","id":"u0","M":7.6,"r":0.00001}
    ]
  },
  "concat": [
    {"width": 8, "height": 10, "data": {"values": [{}]}, "mark": {"type": "point", "opacity": 0, "size": 0}, "view": {"fill": "white", "stroke": null}},
    {"width": 2, "height": 10, "data": {"values": [{}]}, "mark": {"type": "point", "opacity": 0, "size": 0}, "view": {"fill": "white", "stroke": null}},
    {"width": 101, "height": 10, "data": {"values": [{}]}, "mark": {"type": "point", "opacity": 0, "size": 0}, "view": {"fill": "white", "stroke": null}},
    {"width": 420, "height": 10, "data": {"values": [{}]}, "mark": {"type": "point", "opacity": 0, "size": 0}, "view": {"fill": "white", "stroke": null}},
    {"width": 134, "height": 10, "data": {"values": [{}]}, "mark": {"type": "point", "opacity": 0, "size": 0}, "view": {"fill": "white", "stroke": null}},
    {"width": 446, "height": 10, "data": {"values": [{}]}, "mark": {"type": "point", "opacity": 0, "size": 0}, "view": {"fill": "white", "stroke": null}},

    {"width": 8, "height": 3, "data": {"values": [{}]}, "mark": {"type": "point", "opacity": 0, "size": 0}, "view": {"fill": "white", "stroke": null}},
    {"width": 2, "height": 3, "data": {"values": [{}]}, "mark": {"type": "point", "opacity": 0, "size": 0}, "view": {"fill": "#454545", "stroke": null}},
    {"width": 101, "height": 3, "data": {"values": [{}]}, "mark": {"type": "point", "opacity": 0, "size": 0}, "view": {"fill": "#454545", "stroke": null}},
    {"width": 420, "height": 3, "data": {"values": [{}]}, "mark": {"type": "point", "opacity": 0, "size": 0}, "view": {"fill": "#454545", "stroke": null}},
    {"width": 134, "height": 3, "data": {"values": [{}]}, "mark": {"type": "point", "opacity": 0, "size": 0}, "view": {"fill": "#454545", "stroke": null}},
    {"width": 446, "height": 3, "data": {"values": [{}]}, "mark": {"type": "point", "opacity": 0, "size": 0}, "view": {"fill": "#454545", "stroke": null}},

    {"width": 8, "height": 40, "data": {"values": [{}]}, "mark": {"type": "point", "opacity": 0, "size": 0}, "view": {"fill": "white", "stroke": null}},
    {"width": 2, "height": 40, "data": {"values": [{}]}, "mark": {"type": "point", "opacity": 0, "size": 0}, "view": {"fill": "#454545", "stroke": null}},
    {"width": 20, "height": 40, "data": {"values": [{}]}, "mark": {"type": "point", "opacity": 0, "size": 0}},
    {"width": 20, "height": 40, "data": {"values": [{}]}, "mark": {"type": "point", "opacity": 0, "size": 0}},
    {"width": 20, "height": 40, "data": {"values": [{}]}, "mark": {"type": "point", "opacity": 0, "size": 0}},
    {"width": 20, "height": 40, "data": {"values": [{}]}, "mark": {"type": "point", "opacity": 0, "size": 0}},

    {"width": 8, "height": 345, "data": {"values": [{}]}, "mark": {"type": "point", "opacity": 0, "size": 0}, "view": {"fill": "white", "stroke": null}},
    {"width": 2, "height": 345, "data": {"values": [{}]}, "mark": {"type": "point", "opacity": 0, "size": 0}, "view": {"fill": "#454545", "stroke": null}},
    {"width": 20, "height": 345, "data": {"values": [{}]}, "mark": {"type": "point", "opacity": 0, "size": 0}},
    {"width": 420, "height": 345, "view": {"fill": "#f4f4f9", "stroke": "#b4b4bc"},
     "layer": [
      {"data": {"name": "AL"}, "mark": {"type": "line", "clip": true},
       "encoding": {
        "x": {"field": "M", "type": "quantitative", "scale": {"domain": [5, 9], "nice": false}, "axis": {"values": [5, 6, 7, 8, 9], "format": "d", "labelFontSize": 17, "labelPadding": 9, "title": "Magnitude", "titleFontSize": 23, "titlePadding": 7}},
        "y": {"field": "r", "type": "quantitative", "scale": {"type": "log", "domain": [0.00001, 10], "nice": false}, "axis": {"values": [0.00001,0.00002,0.00003,0.00004,0.00005,0.00006,0.00007,0.00008,0.00009,0.0001,0.0002,0.0003,0.0004,0.0005,0.0006,0.0007,0.0008,0.0009,0.001,0.002,0.003,0.004,0.005,0.006,0.007,0.008,0.009,0.01,0.02,0.03,0.04,0.05,0.06,0.07,0.08,0.09,0.1,0.2,0.3,0.4,0.5,0.6,0.7,0.8,0.9,1,2,3,4,5,6,7,8,9,10], "labelExpr": "abs(log(datum.value)/LN10 - round(log(datum.value)/LN10)) < 0.01 ? '10' + ['⁻⁵','⁻⁴','⁻³','⁻²','⁻¹','⁰','¹'][round(log(datum.value)/LN10) + 5] : ''", "labelFontSize": 21, "labelPadding": 6, "title": "Cumulative Rate (per yr)", "titleFont": "Lato", "titleFontSize": 27, "titlePadding": 9}},
        "color": {"field": "s", "type": "nominal", "scale": {"domain": ["U2 Total", "U3 Total", "U2 Gridded Seis", "U3 Gridded Seis", "U2 On Fault", "U3 On Fault"], "range": ["#ff1414", "#1414ff", "#ff10ff", "#7e7e7e", "#18e418", "#ff7a1e"]}, "legend": null},
        "strokeWidth": {"field": "w", "type": "nominal", "scale": {"domain": ["thick", "thin"], "range": [3.6, 1.3]}, "legend": null},
        "detail": {"field": "id"}
       }},
      {"data": {"values": [{"M1": 5.067, "M2": 6.505, "r1": 0.00232, "r2": 0.0000497}]}, "mark": {"type": "rect", "fill": "white", "stroke": "#6a6a6a", "strokeWidth": 1.5},
       "encoding": {"x": {"field": "M1", "type": "quantitative", "scale": {"domain": [5, 9], "nice": false}}, "x2": {"field": "M2"}, "y": {"field": "r1", "type": "quantitative", "scale": {"type": "log", "domain": [0.00001, 10], "nice": false}}, "y2": {"field": "r2"}}},
      {"data": {"values": [{"t": "U2 Total", "s": "U2 Total", "M": 5.21, "r": 0.000548}, {"t": "U3 Total", "s": "U3 Total", "M": 5.21, "r": 0.000102}]}, "mark": {"type": "text", "align": "left", "baseline": "alphabetic", "fontSize": 26, "font": "Lato"},
       "encoding": {"x": {"field": "M", "type": "quantitative", "scale": {"domain": [5, 9], "nice": false}}, "y": {"field": "r", "type": "quantitative", "scale": {"type": "log", "domain": [0.00001, 10], "nice": false}}, "text": {"field": "t"}, "color": {"field": "s", "type": "nominal", "legend": null}}},
      {"data": {"values": [{"t": "LA Box Region", "M": 5.19, "r": 2.28}]}, "mark": {"type": "text", "align": "left", "baseline": "alphabetic", "fontSize": 32, "font": "Lato", "color": "#111111"},
       "encoding": {"x": {"field": "M", "type": "quantitative", "scale": {"domain": [5, 9], "nice": false}}, "y": {"field": "r", "type": "quantitative", "scale": {"type": "log", "domain": [0.00001, 10], "nice": false}}, "text": {"field": "t"}}},
      {"data": {"values": [{"t": "A", "M": 9.37, "r": 7.55}]}, "mark": {"type": "text", "align": "center", "baseline": "alphabetic", "fontSize": 39, "font": "Liberation Sans", "fontWeight": "bold", "color": "#111111"},
       "encoding": {"x": {"field": "M", "type": "quantitative", "scale": {"domain": [5, 9], "nice": false}}, "y": {"field": "r", "type": "quantitative", "scale": {"type": "log", "domain": [0.00001, 10], "nice": false}}, "text": {"field": "t"}}}
     ]},
    {"width": 20, "height": 345, "data": {"values": [{}]}, "mark": {"type": "point", "opacity": 0, "size": 0}},
    {"width": 422, "height": 345, "view": {"fill": "#f4f4f9", "stroke": "#b4b4bc"},
     "layer": [
      {"data": {"name": "AR"}, "mark": {"type": "line", "clip": true},
       "encoding": {
        "x": {"field": "M", "type": "quantitative", "scale": {"domain": [5, 9], "nice": false}, "axis": {"values": [5, 6, 7, 8, 9], "format": "d", "labelFontSize": 17, "labelPadding": 9, "title": "Magnitude", "titleFontSize": 23, "titlePadding": 7}},
        "y": {"field": "r", "type": "quantitative", "scale": {"type": "log", "domain": [0.00001, 10], "nice": false}, "axis": {"values": [0.00001,0.00002,0.00003,0.00004,0.00005,0.00006,0.00007,0.00008,0.00009,0.0001,0.0002,0.0003,0.0004,0.0005,0.0006,0.0007,0.0008,0.0009,0.001,0.002,0.003,0.004,0.005,0.006,0.007,0.008,0.009,0.01,0.02,0.03,0.04,0.05,0.06,0.07,0.08,0.09,0.1,0.2,0.3,0.4,0.5,0.6,0.7,0.8,0.9,1,2,3,4,5,6,7,8,9,10], "labelExpr": "abs(log(datum.value)/LN10 - round(log(datum.value)/LN10)) < 0.01 ? '10' + ['⁻⁵','⁻⁴','⁻³','⁻²','⁻¹','⁰','¹'][round(log(datum.value)/LN10) + 5] : ''", "labelFontSize": 21, "labelPadding": 4, "title": null}},
        "color": {"field": "s", "type": "nominal", "scale": {"domain": ["U2 Total", "U3 Total", "U2 Gridded Seis", "U3 Gridded Seis", "U2 On Fault", "U3 On Fault"], "range": ["#ff1414", "#1414ff", "#ff10ff", "#7e7e7e", "#18e418", "#ff7a1e"]}, "legend": null},
        "strokeWidth": {"field": "w", "type": "nominal", "scale": {"domain": ["thick", "thin"], "range": [3.6, 1.3]}, "legend": null},
        "detail": {"field": "id"}
       }},
      {"data": {"values": [{"M1": 5.456, "M2": 7.556, "r1": 8.51, "r2": 0.44}, {"M1": 7.423, "M2": 8.99, "r1": 0.375, "r2": 0.0201}]}, "mark": {"type": "rect", "fill": "white", "stroke": "#6a6a6a", "strokeWidth": 1.5},
       "encoding": {"x": {"field": "M1", "type": "quantitative", "scale": {"domain": [5, 9], "nice": false}}, "x2": {"field": "M2"}, "y": {"field": "r1", "type": "quantitative", "scale": {"type": "log", "domain": [0.00001, 10], "nice": false}}, "y2": {"field": "r2"}}},
      {"data": {"values": [{"t": "U2 Gridded Seis", "s": "U2 Gridded Seis", "M": 5.57, "r": 2.59}, {"t": "U3 Gridded Seis", "s": "U3 Gridded Seis", "M": 5.57, "r": 0.703}, {"t": "U2 On Fault", "s": "U2 On Fault", "M": 7.47, "r": 0.1127}, {"t": "U3 On Fault", "s": "U3 On Fault", "M": 7.47, "r": 0.0289}]}, "mark": {"type": "text", "align": "left", "baseline": "alphabetic", "fontSize": 26, "font": "Lato"},
       "encoding": {"x": {"field": "M", "type": "quantitative", "scale": {"domain": [5, 9], "nice": false}}, "y": {"field": "r", "type": "quantitative", "scale": {"type": "log", "domain": [0.00001, 10], "nice": false}}, "text": {"field": "t"}, "color": {"field": "s", "type": "nominal", "legend": null}}}
     ]},

    {"width": 8, "height": 64, "data": {"values": [{}]}, "mark": {"type": "point", "opacity": 0, "size": 0}, "view": {"fill": "white", "stroke": null}},
    {"width": 2, "height": 64, "data": {"values": [{}]}, "mark": {"type": "point", "opacity": 0, "size": 0}, "view": {"fill": "#454545", "stroke": null}},
    {"width": 20, "height": 64, "data": {"values": [{}]}, "mark": {"type": "point", "opacity": 0, "size": 0}},
    {"width": 20, "height": 64, "data": {"values": [{}]}, "mark": {"type": "point", "opacity": 0, "size": 0}},
    {"width": 20, "height": 64, "data": {"values": [{}]}, "mark": {"type": "point", "opacity": 0, "size": 0}},
    {"width": 20, "height": 64, "data": {"values": [{}]}, "mark": {"type": "point", "opacity": 0, "size": 0}},

    {"width": 8, "height": 3, "data": {"values": [{}]}, "mark": {"type": "point", "opacity": 0, "size": 0}, "view": {"fill": "white", "stroke": null}},
    {"width": 2, "height": 3, "data": {"values": [{}]}, "mark": {"type": "point", "opacity": 0, "size": 0}, "view": {"fill": "#454545", "stroke": null}},
    {"width": 101, "height": 3, "data": {"values": [{}]}, "mark": {"type": "point", "opacity": 0, "size": 0}, "view": {"fill": "#454545", "stroke": null}},
    {"width": 420, "height": 3, "data": {"values": [{}]}, "mark": {"type": "point", "opacity": 0, "size": 0}, "view": {"fill": "#454545", "stroke": null}},
    {"width": 134, "height": 3, "data": {"values": [{}]}, "mark": {"type": "point", "opacity": 0, "size": 0}, "view": {"fill": "#454545", "stroke": null}},
    {"width": 446, "height": 3, "data": {"values": [{}]}, "mark": {"type": "point", "opacity": 0, "size": 0}, "view": {"fill": "#454545", "stroke": null}},

    {"width": 8, "height": 33, "data": {"values": [{}]}, "mark": {"type": "point", "opacity": 0, "size": 0}, "view": {"fill": "white", "stroke": null}},
    {"width": 2, "height": 33, "data": {"values": [{}]}, "mark": {"type": "point", "opacity": 0, "size": 0}, "view": {"fill": "#454545", "stroke": null}},
    {"width": 20, "height": 33, "data": {"values": [{}]}, "mark": {"type": "point", "opacity": 0, "size": 0}},
    {"width": 20, "height": 33, "data": {"values": [{}]}, "mark": {"type": "point", "opacity": 0, "size": 0}},
    {"width": 20, "height": 33, "data": {"values": [{}]}, "mark": {"type": "point", "opacity": 0, "size": 0}},
    {"width": 20, "height": 33, "data": {"values": [{}]}, "mark": {"type": "point", "opacity": 0, "size": 0}},

    {"width": 8, "height": 345, "data": {"values": [{}]}, "mark": {"type": "point", "opacity": 0, "size": 0}, "view": {"fill": "white", "stroke": null}},
    {"width": 2, "height": 345, "data": {"values": [{}]}, "mark": {"type": "point", "opacity": 0, "size": 0}, "view": {"fill": "#454545", "stroke": null}},
    {"width": 20, "height": 345, "data": {"values": [{}]}, "mark": {"type": "point", "opacity": 0, "size": 0}},
    {"width": 420, "height": 345, "view": {"fill": "#f4f4f9", "stroke": "#b4b4bc"},
     "layer": [
      {"data": {"name": "BL"}, "mark": {"type": "line", "clip": true},
       "encoding": {
        "x": {"field": "M", "type": "quantitative", "scale": {"domain": [5, 9], "nice": false}, "axis": {"values": [5, 6, 7, 8, 9], "format": "d", "labelFontSize": 17, "labelPadding": 9, "title": "Magnitude", "titleFontSize": 23, "titlePadding": 7}},
        "y": {"field": "r", "type": "quantitative", "scale": {"type": "log", "domain": [0.00001, 10], "nice": false}, "axis": {"values": [0.00001,0.00002,0.00003,0.00004,0.00005,0.00006,0.00007,0.00008,0.00009,0.0001,0.0002,0.0003,0.0004,0.0005,0.0006,0.0007,0.0008,0.0009,0.001,0.002,0.003,0.004,0.005,0.006,0.007,0.008,0.009,0.01,0.02,0.03,0.04,0.05,0.06,0.07,0.08,0.09,0.1,0.2,0.3,0.4,0.5,0.6,0.7,0.8,0.9,1,2,3,4,5,6,7,8,9,10], "labelExpr": "abs(log(datum.value)/LN10 - round(log(datum.value)/LN10)) < 0.01 ? '10' + ['⁻⁵','⁻⁴','⁻³','⁻²','⁻¹','⁰','¹'][round(log(datum.value)/LN10) + 5] : ''", "labelFontSize": 21, "labelPadding": 6, "title": "Cumulative Rate (per yr)", "titleFont": "Lato", "titleFontSize": 27, "titlePadding": 9}},
        "color": {"field": "s", "type": "nominal", "scale": {"domain": ["U2 Total", "U3 Total", "U2 Gridded Seis", "U3 Gridded Seis", "U2 On Fault", "U3 On Fault"], "range": ["#ff1414", "#1414ff", "#ff10ff", "#7e7e7e", "#18e418", "#ff7a1e"]}, "legend": null},
        "strokeWidth": {"field": "w", "type": "nominal", "scale": {"domain": ["thick", "thin"], "range": [3.6, 1.3]}, "legend": null},
        "detail": {"field": "id"}
       }},
      {"data": {"values": [{"t": "SF Box Region", "M": 5.17, "r": 2.18}]}, "mark": {"type": "text", "align": "left", "baseline": "alphabetic", "fontSize": 32, "font": "Lato", "color": "#111111"},
       "encoding": {"x": {"field": "M", "type": "quantitative", "scale": {"domain": [5, 9], "nice": false}}, "y": {"field": "r", "type": "quantitative", "scale": {"type": "log", "domain": [0.00001, 10], "nice": false}}, "text": {"field": "t"}}},
      {"data": {"values": [{"t": "B", "M": 9.37, "r": 4.14}]}, "mark": {"type": "text", "align": "center", "baseline": "alphabetic", "fontSize": 39, "font": "Liberation Sans", "fontWeight": "bold", "color": "#111111"},
       "encoding": {"x": {"field": "M", "type": "quantitative", "scale": {"domain": [5, 9], "nice": false}}, "y": {"field": "r", "type": "quantitative", "scale": {"type": "log", "domain": [0.00001, 10], "nice": false}}, "text": {"field": "t"}}}
     ]},
    {"width": 20, "height": 345, "data": {"values": [{}]}, "mark": {"type": "point", "opacity": 0, "size": 0}},
    {"width": 422, "height": 345, "view": {"fill": "#f4f4f9", "stroke": "#b4b4bc"},
     "layer": [
      {"data": {"name": "BR"}, "mark": {"type": "line", "clip": true},
       "encoding": {
        "x": {"field": "M", "type": "quantitative", "scale": {"domain": [5, 9], "nice": false}, "axis": {"values": [5, 6, 7, 8, 9], "format": "d", "labelFontSize": 17, "labelPadding": 9, "title": "Magnitude", "titleFontSize": 23, "titlePadding": 7}},
        "y": {"field": "r", "type": "quantitative", "scale": {"type": "log", "domain": [0.00001, 10], "nice": false}, "axis": {"values": [0.00001,0.00002,0.00003,0.00004,0.00005,0.00006,0.00007,0.00008,0.00009,0.0001,0.0002,0.0003,0.0004,0.0005,0.0006,0.0007,0.0008,0.0009,0.001,0.002,0.003,0.004,0.005,0.006,0.007,0.008,0.009,0.01,0.02,0.03,0.04,0.05,0.06,0.07,0.08,0.09,0.1,0.2,0.3,0.4,0.5,0.6,0.7,0.8,0.9,1,2,3,4,5,6,7,8,9,10], "labelExpr": "abs(log(datum.value)/LN10 - round(log(datum.value)/LN10)) < 0.01 ? '10' + ['⁻⁵','⁻⁴','⁻³','⁻²','⁻¹','⁰','¹'][round(log(datum.value)/LN10) + 5] : ''", "labelFontSize": 21, "labelPadding": 4, "title": null}},
        "color": {"field": "s", "type": "nominal", "scale": {"domain": ["U2 Total", "U3 Total", "U2 Gridded Seis", "U3 Gridded Seis", "U2 On Fault", "U3 On Fault"], "range": ["#ff1414", "#1414ff", "#ff10ff", "#7e7e7e", "#18e418", "#ff7a1e"]}, "legend": null},
        "strokeWidth": {"field": "w", "type": "nominal", "scale": {"domain": ["thick", "thin"], "range": [3.6, 1.3]}, "legend": null},
        "detail": {"field": "id"}
       }}
     ]},

    {"width": 8, "height": 69, "data": {"values": [{}]}, "mark": {"type": "point", "opacity": 0, "size": 0}, "view": {"fill": "white", "stroke": null}},
    {"width": 2, "height": 69, "data": {"values": [{}]}, "mark": {"type": "point", "opacity": 0, "size": 0}, "view": {"fill": "#454545", "stroke": null}},
    {"width": 20, "height": 69, "data": {"values": [{}]}, "mark": {"type": "point", "opacity": 0, "size": 0}},
    {"width": 20, "height": 69, "data": {"values": [{}]}, "mark": {"type": "point", "opacity": 0, "size": 0}},
    {"width": 20, "height": 69, "data": {"values": [{}]}, "mark": {"type": "point", "opacity": 0, "size": 0}},
    {"width": 20, "height": 69, "data": {"values": [{}]}, "mark": {"type": "point", "opacity": 0, "size": 0}},

    {"width": 8, "height": 3, "data": {"values": [{}]}, "mark": {"type": "point", "opacity": 0, "size": 0}, "view": {"fill": "white", "stroke": null}},
    {"width": 2, "height": 3, "data": {"values": [{}]}, "mark": {"type": "point", "opacity": 0, "size": 0}, "view": {"fill": "#454545", "stroke": null}},
    {"width": 101, "height": 3, "data": {"values": [{}]}, "mark": {"type": "point", "opacity": 0, "size": 0}, "view": {"fill": "#454545", "stroke": null}},
    {"width": 420, "height": 3, "data": {"values": [{}]}, "mark": {"type": "point", "opacity": 0, "size": 0}, "view": {"fill": "#454545", "stroke": null}},
    {"width": 134, "height": 3, "data": {"values": [{}]}, "mark": {"type": "point", "opacity": 0, "size": 0}, "view": {"fill": "#454545", "stroke": null}},
    {"width": 446, "height": 3, "data": {"values": [{}]}, "mark": {"type": "point", "opacity": 0, "size": 0}, "view": {"fill": "#454545", "stroke": null}},

    {"width": 8, "height": 32, "data": {"values": [{}]}, "mark": {"type": "point", "opacity": 0, "size": 0}, "view": {"fill": "white", "stroke": null}},
    {"width": 2, "height": 32, "data": {"values": [{}]}, "mark": {"type": "point", "opacity": 0, "size": 0}, "view": {"fill": "#454545", "stroke": null}},
    {"width": 20, "height": 32, "data": {"values": [{}]}, "mark": {"type": "point", "opacity": 0, "size": 0}},
    {"width": 20, "height": 32, "data": {"values": [{}]}, "mark": {"type": "point", "opacity": 0, "size": 0}},
    {"width": 20, "height": 32, "data": {"values": [{}]}, "mark": {"type": "point", "opacity": 0, "size": 0}},
    {"width": 20, "height": 32, "data": {"values": [{}]}, "mark": {"type": "point", "opacity": 0, "size": 0}},

    {"width": 8, "height": 343, "data": {"values": [{}]}, "mark": {"type": "point", "opacity": 0, "size": 0}, "view": {"fill": "white", "stroke": null}},
    {"width": 2, "height": 343, "data": {"values": [{}]}, "mark": {"type": "point", "opacity": 0, "size": 0}, "view": {"fill": "#454545", "stroke": null}},
    {"width": 20, "height": 343, "data": {"values": [{}]}, "mark": {"type": "point", "opacity": 0, "size": 0}},
    {"width": 420, "height": 343, "view": {"fill": "#f4f4f9", "stroke": "#b4b4bc"},
     "layer": [
      {"data": {"name": "CL"}, "mark": {"type": "line", "clip": true},
       "encoding": {
        "x": {"field": "M", "type": "quantitative", "scale": {"domain": [5, 9], "nice": false}, "axis": {"values": [5, 6, 7, 8, 9], "format": "d", "labelFontSize": 17, "labelPadding": 9, "title": "Magnitude", "titleFontSize": 23, "titlePadding": 7}},
        "y": {"field": "r", "type": "quantitative", "scale": {"type": "log", "domain": [0.00001, 10], "nice": false}, "axis": {"values": [0.00001,0.00002,0.00003,0.00004,0.00005,0.00006,0.00007,0.00008,0.00009,0.0001,0.0002,0.0003,0.0004,0.0005,0.0006,0.0007,0.0008,0.0009,0.001,0.002,0.003,0.004,0.005,0.006,0.007,0.008,0.009,0.01,0.02,0.03,0.04,0.05,0.06,0.07,0.08,0.09,0.1,0.2,0.3,0.4,0.5,0.6,0.7,0.8,0.9,1,2,3,4,5,6,7,8,9,10], "labelExpr": "abs(log(datum.value)/LN10 - round(log(datum.value)/LN10)) < 0.01 ? '10' + ['⁻⁵','⁻⁴','⁻³','⁻²','⁻¹','⁰','¹'][round(log(datum.value)/LN10) + 5] : ''", "labelFontSize": 21, "labelPadding": 6, "title": "Cumulative Rate (per yr)", "titleFont": "Lato", "titleFontSize": 27, "titlePadding": 9}},
        "color": {"field": "s", "type": "nominal", "scale": {"domain": ["U2 Total", "U3 Total", "U2 Gridded Seis", "U3 Gridded Seis", "U2 On Fault", "U3 On Fault"], "range": ["#ff1414", "#1414ff", "#ff10ff", "#7e7e7e", "#18e418", "#ff7a1e"]}, "legend": null},
        "strokeWidth": {"field": "w", "type": "nominal", "scale": {"domain": ["thick", "thin"], "range": [3.6, 1.3]}, "legend": null},
        "detail": {"field": "id"}
       }},
      {"data": {"values": [{"t": "Northridge Box Region", "M": 5.17, "r": 2.18}]}, "mark": {"type": "text", "align": "left", "baseline": "alphabetic", "fontSize": 32, "font": "Lato", "color": "#111111"},
       "encoding": {"x": {"field": "M", "type": "quantitative", "scale": {"domain": [5, 9], "nice": false}}, "y": {"field": "r", "type": "quantitative", "scale": {"type": "log", "domain": [0.00001, 10], "nice": false}}, "text": {"field": "t"}}},
      {"data": {"values": [{"t": "C", "M": 9.37, "r": 4.31}]}, "mark": {"type": "text", "align": "center", "baseline": "alphabetic", "fontSize": 39, "font": "Liberation Sans", "fontWeight": "bold", "color": "#111111"},
       "encoding": {"x": {"field": "M", "type": "quantitative", "scale": {"domain": [5, 9], "nice": false}}, "y": {"field": "r", "type": "quantitative", "scale": {"type": "log", "domain": [0.00001, 10], "nice": false}}, "text": {"field": "t"}}}
     ]},
    {"width": 20, "height": 343, "data": {"values": [{}]}, "mark": {"type": "point", "opacity": 0, "size": 0}},
    {"width": 422, "height": 343, "view": {"fill": "#f4f4f9", "stroke": "#b4b4bc"},
     "layer": [
      {"data": {"name": "CR"}, "mark": {"type": "line", "clip": true},
       "encoding": {
        "x": {"field": "M", "type": "quantitative", "scale": {"domain": [5, 9], "nice": false}, "axis": {"values": [5, 6, 7, 8, 9], "format": "d", "labelFontSize": 17, "labelPadding": 9, "title": "Magnitude", "titleFontSize": 23, "titlePadding": 7}},
        "y": {"field": "r", "type": "quantitative", "scale": {"type": "log", "domain": [0.00001, 10], "nice": false}, "axis": {"values": [0.00001,0.00002,0.00003,0.00004,0.00005,0.00006,0.00007,0.00008,0.00009,0.0001,0.0002,0.0003,0.0004,0.0005,0.0006,0.0007,0.0008,0.0009,0.001,0.002,0.003,0.004,0.005,0.006,0.007,0.008,0.009,0.01,0.02,0.03,0.04,0.05,0.06,0.07,0.08,0.09,0.1,0.2,0.3,0.4,0.5,0.6,0.7,0.8,0.9,1,2,3,4,5,6,7,8,9,10], "labelExpr": "abs(log(datum.value)/LN10 - round(log(datum.value)/LN10)) < 0.01 ? '10' + ['⁻⁵','⁻⁴','⁻³','⁻²','⁻¹','⁰','¹'][round(log(datum.value)/LN10) + 5] : ''", "labelFontSize": 21, "labelPadding": 4, "title": null}},
        "color": {"field": "s", "type": "nominal", "scale": {"domain": ["U2 Total", "U3 Total", "U2 Gridded Seis", "U3 Gridded Seis", "U2 On Fault", "U3 On Fault"], "range": ["#ff1414", "#1414ff", "#ff10ff", "#7e7e7e", "#18e418", "#ff7a1e"]}, "legend": null},
        "strokeWidth": {"field": "w", "type": "nominal", "scale": {"domain": ["thick", "thin"], "range": [3.6, 1.3]}, "legend": null},
        "detail": {"field": "id"}
       }}
     ]},

    {"width": 8, "height": 58, "data": {"values": [{}]}, "mark": {"type": "point", "opacity": 0, "size": 0}, "view": {"fill": "white", "stroke": null}},
    {"width": 2, "height": 58, "data": {"values": [{}]}, "mark": {"type": "point", "opacity": 0, "size": 0}, "view": {"fill": "#454545", "stroke": null}},
    {"width": 20, "height": 58, "data": {"values": [{}]}, "mark": {"type": "point", "opacity": 0, "size": 0}},
    {"width": 20, "height": 58, "data": {"values": [{}]}, "mark": {"type": "point", "opacity": 0, "size": 0}},
    {"width": 20, "height": 58, "data": {"values": [{}]}, "mark": {"type": "point", "opacity": 0, "size": 0}},
    {"width": 20, "height": 58, "data": {"values": [{}]}, "mark": {"type": "point", "opacity": 0, "size": 0}}
  ]
}
